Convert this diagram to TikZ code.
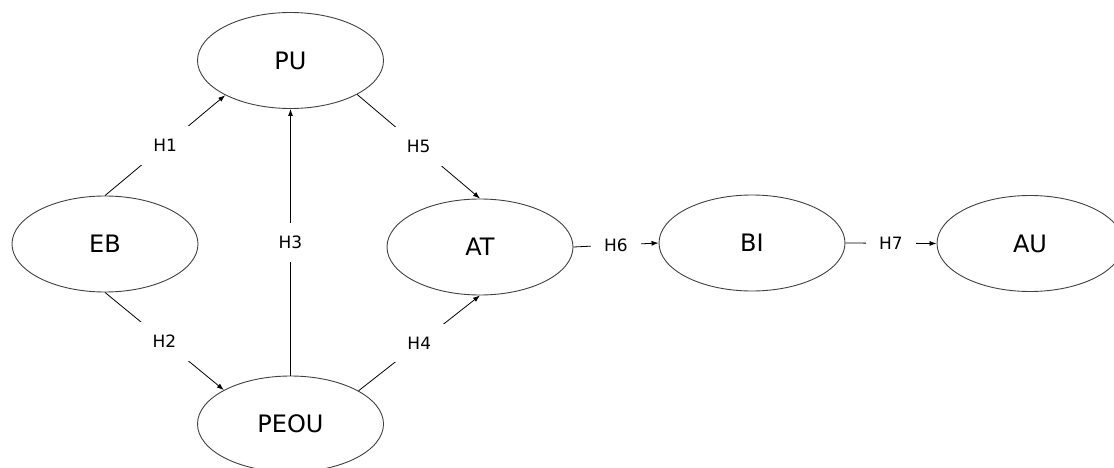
\documentclass[tikz,border=0pt]{standalone}
\usepackage{fontspec}
\setmainfont{DejaVu Sans}
\usetikzlibrary{shapes.geometric,arrows.meta}

\begin{document}
\begin{tikzpicture}[x=1pt,y=1pt,
  construct/.style={ellipse,draw=line_grey,line width=0.9pt,minimum width=186pt,minimum height=96pt,font=\fontsize{24}{28}\selectfont},
  hyp/.style={fill=white,inner sep=13pt,font=\fontsize{17}{20}\selectfont},
  path_arrow/.style={-{Latex[length=7pt,width=5pt]},line width=0.8pt}]

\definecolor{line_grey}{HTML}{404040}

\useasboundingbox (0,0) rectangle (1114,467);

\node[construct] (PU) at (290.5,406.5) {PU};
\node[construct] (EB) at (105,223) {EB};
\node[construct] (PEOU) at (290.5,43) {PEOU};
\node[construct] (AT) at (480,220) {AT};
\node[construct] (BI) at (752,224) {BI};
\node[construct] (AU) at (1030,223.5) {AU};

\draw[path_arrow] (EB.north) -- node[hyp] {H1} (PU.208);
\draw[path_arrow] (EB.south) -- node[hyp] {H2} (PEOU.153);
\draw[path_arrow] (PEOU.north) -- node[hyp] {H3} (PU.south);
\draw[path_arrow] (PEOU.26) -- node[hyp] {H4} (AT.south);
\draw[path_arrow] (PU.333) -- node[hyp] {H5} (AT.north);
\draw[path_arrow] (AT.east) -- node[hyp] {H6} (BI.west);
\draw[path_arrow] (BI.east) -- node[hyp] {H7} (AU.west);

\end{tikzpicture}
\end{document}
